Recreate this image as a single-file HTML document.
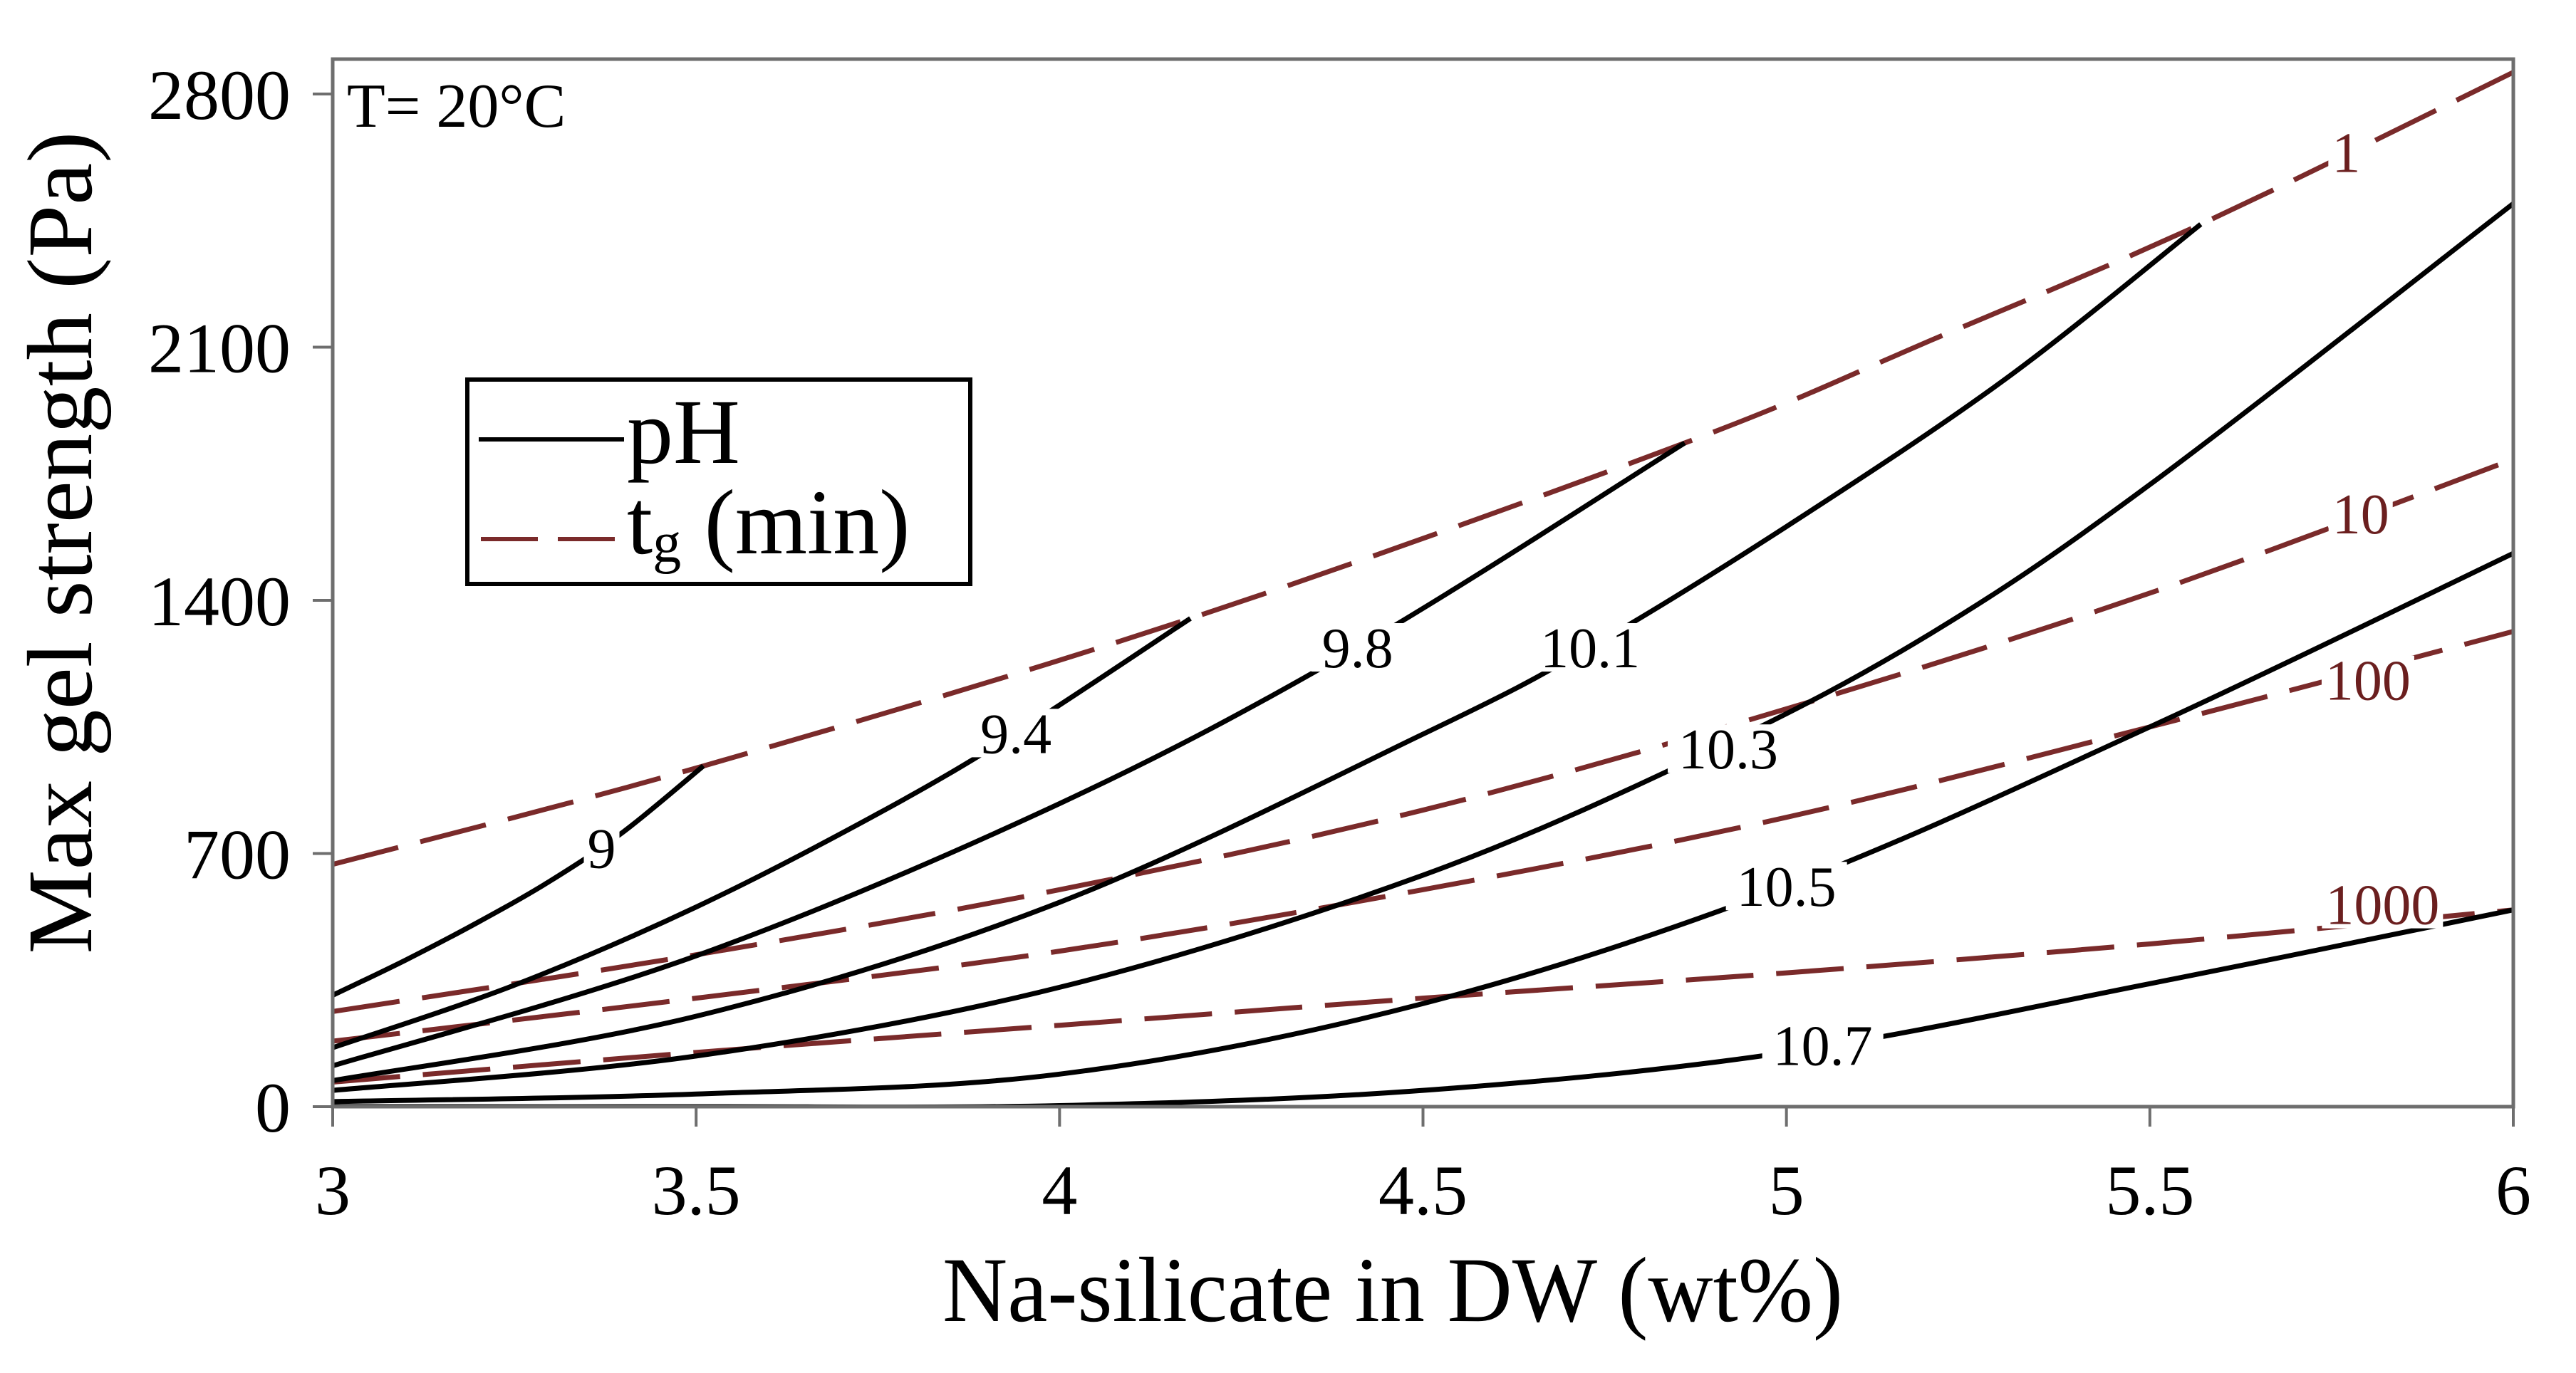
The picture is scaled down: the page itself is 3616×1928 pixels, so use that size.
<!DOCTYPE html>
<html><head><meta charset="utf-8"><style>
html,body{margin:0;padding:0;background:#fff;}
svg{display:block;}
text{font-family:"Liberation Serif",serif;}
</style></head><body>
<svg id="chart" width="3616" height="1928" viewBox="0 0 3616 1928" xmlns="http://www.w3.org/2000/svg">
<g id="plot"></g>
</svg>
<script>
const xTicks=[3,3.5,4,4.5,5,5.5,6];
const xTickLabels=["3","3.5","4","4.5","5","5.5","6"];
const yTicks=[0,700,1400,2100,2800];
const yTickLabels=["0","700","1400","2100","2800"];
const phNames=["9","9.4","9.8","10.1","10.3","10.5","10.7"];
const ph9=[[3,308],[3.1,405],[3.2,510],[3.3,625],[3.4,760],[3.51,942]];
const ph94=[[3,163],[3.25,336],[3.5,552],[3.75,810],[3.94,1033],[4.18,1350]];
const ph98=[[3,113],[3.5,417],[4,838],[4.41,1270],[4.86,1835]];
const ph101=[[3,72],[3.5,250],[4,565],[4.5,1030],[4.73,1270],[5,1604],[5.3,2010],[5.57,2440]];
const ph103=[[3,45],[3.5,140],[4,330],[4.5,640],[4.9,988],[5.2,1310],[5.5,1720],[6,2497]];
const ph105=[[3,14],[3.5,35],[4,90],[4.5,285],[5,610],[5.5,1050],[6,1530]];
const ph107=[[3,0],[3.5,0],[4,3],[4.5,45],[5,150],[5.5,340],[6,544]];
const phLabelPos=[[3.37,716],[3.94,1033],[4.41,1270],[4.73,1270],[4.92,990],[5.0,610],[5.05,170]];
const tgNames=["1","10","100","1000"];
const tg1=[[3,670],[3.51,942],[4.18,1350],[4.86,1835],[5.2,2120],[5.57,2440],[6,2860]];
const tg10=[[3,263],[3.5,420],[4,600],[4.5,820],[5,1100],[5.5,1420],[6,1790]];
const tg100=[[3,181],[3.5,300],[4,430],[4.5,600],[5,800],[5.5,1050],[6,1314]];
const tg1000=[[3,68],[3.5,150],[4,225],[4.5,300],[5,370],[5.5,450],[6,544]];
const tgLabelPos=[[5.77,2640],[5.79,1640],[5.8,1180],[5.82,560]];

const X0=467,X1=3528,Y0=1554,Y2800=132,TOP=83;
const sx=v=>X0+(v-3)/(6-3)*(X1-X0);
const sy=v=>Y0-v/2800*(Y0-Y2800);
const NS="http://www.w3.org/2000/svg";
const g=document.getElementById('plot');
function mk(tag,attrs,parent){const e=document.createElementNS(NS,tag);for(const k in attrs)e.setAttribute(k,attrs[k]);(parent||g).appendChild(e);return e;}
function smooth(pts){
  const p=pts.map(d=>[sx(d[0]),sy(d[1])]);
  let s="M"+p[0][0]+","+p[0][1];
  for(let i=0;i<p.length-1;i++){
    const p0=p[i-1]||p[i],p1=p[i],p2=p[i+1],p3=p[i+2]||p2;
    const c1=[p1[0]+(p2[0]-p0[0])/6,p1[1]+(p2[1]-p0[1])/6];
    const c2=[p2[0]-(p3[0]-p1[0])/6,p2[1]-(p3[1]-p1[1])/6];
    s+=" C"+c1[0]+","+c1[1]+" "+c2[0]+","+c2[1]+" "+p2[0]+","+p2[1];
  }
  return s;
}
const defs=mk('defs',{});
const cp=mk('clipPath',{id:'clip'},defs);
mk('rect',{x:X0,y:TOP,width:X1-X0,height:Y0-TOP},cp);

const series=mk('g',{'clip-path':'url(#clip)'});


[tg1,tg10,tg100,tg1000].forEach((d,i)=>{
  const e=mk('path',{d:smooth(d),fill:'none',stroke:'#7a2a2a','stroke-width':7,'stroke-dasharray':'95,32'},series);
  
  
});
[ph9,ph94,ph98,ph101,ph103,ph105,ph107].forEach((d,i)=>{
  const e=mk('path',{d:smooth(d),fill:'none',stroke:'#000','stroke-width':7},series);
  
  
});
function label(txt,p,color){
  const w=txt.length*40+10;
  const bg=mk('rect',{x:sx(p[0])-w/2,y:sy(p[1])-34,width:w,height:68,fill:'#fff'});
  
  
  const t=mk('text',{x:sx(p[0]),y:sy(p[1])+28,'text-anchor':'middle','font-size':80,fill:color});
  t.textContent=txt;
  return t;
}
phLabelPos.forEach((p,i)=>{
  const t=label(phNames[i],p,'#000');
  
  
});
tgLabelPos.forEach((p,i)=>{
  const t=label(tgNames[i],p,'#6b1f1f');
  
  
});

const fr=mk('rect',{x:X0,y:TOP,width:X1-X0,height:Y0-TOP,fill:'none',stroke:'#6e6e6e','stroke-width':5});


xTicks.forEach((v,i)=>{
  const l=mk('line',{x1:sx(v),x2:sx(v),y1:Y0,y2:Y0+28,stroke:'#6e6e6e','stroke-width':4});
  
  
  const t=mk('text',{x:sx(v),y:1705,'text-anchor':'middle','font-size':100,fill:'#000'});
  t.textContent=xTickLabels[i];
  
  
});
yTicks.forEach((v,i)=>{
  const l=mk('line',{x1:X0-28,x2:X0,y1:sy(v),y2:sy(v),stroke:'#6e6e6e','stroke-width':4});
  
  
  const t=mk('text',{x:408,y:sy(v)+35,'text-anchor':'end','font-size':100,fill:'#000'});
  t.textContent=yTickLabels[i];
  
  
});
let t=mk('text',{x:1955,y:1855,'text-anchor':'middle','font-size':130,fill:'#000',textLength:1264,lengthAdjust:'spacingAndGlyphs'});
t.textContent='Na-silicate in DW (wt%)';


t=mk('text',{x:0,y:0,'text-anchor':'middle','font-size':130,fill:'#000',textLength:1155,lengthAdjust:'spacingAndGlyphs',transform:'translate(128,762) rotate(-90)'});
t.textContent='Max gel strength (Pa)';


t=mk('text',{x:487,y:178,'font-size':88,fill:'#000'});
t.textContent='T= 20°C';



const lg=mk('g',{});


let r=mk('rect',{x:656,y:533,width:706,height:287,fill:'#fff',stroke:'#000','stroke-width':6},lg);


let l=mk('line',{x1:672,x2:876,y1:617,y2:617,stroke:'#000','stroke-width':6},lg);


t=mk('text',{x:880,y:650,'font-size':130,fill:'#000'},lg);
t.textContent='pH';


l=mk('line',{x1:675,x2:876,y1:757,y2:757,stroke:'#7a2a2a','stroke-width':6,'stroke-dasharray':'80,28'},lg);


t=mk('text',{x:880,y:777,'font-size':130,fill:'#000'},lg);
t.innerHTML='t<tspan font-size="80" dy="12">g</tspan><tspan dy="-12"> (min)</tspan>';


</script>
</body></html>
